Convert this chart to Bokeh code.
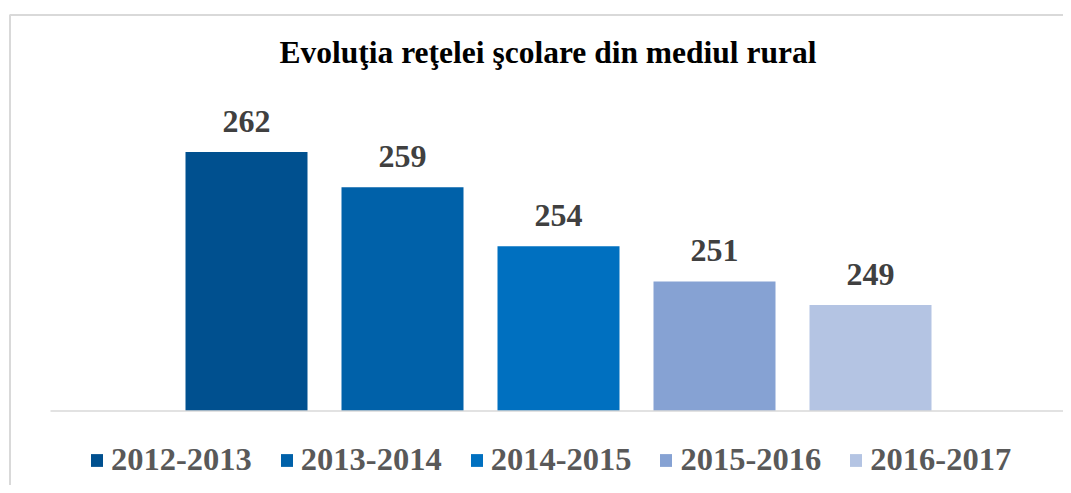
from bokeh.plotting import figure
from bokeh.models import ColumnDataSource, Range1d, Label
from bokeh.core.properties import value
from bokeh.embed import file_html
from bokeh.resources import INLINE

# ---- data ----
years = ["2012-2013", "2013-2014", "2014-2015", "2015-2016", "2016-2017"]
counts = [262, 259, 254, 251, 249]
colors = ["#00508F", "#0061A9", "#0070C0", "#86A2D3", "#B4C4E3"]
title_text = "Evoluţia reţelei şcolare din mediul rural"

# ---- geometry (canvas pixels) ----
W, H = 1063, 485
slot = 156.0            # px per category
c0 = 246.0              # canvas x of first bar centre
ppu = 11.77             # px per value unit
base_cy = 410.5         # canvas y of baseline
y_base = 240

x_start = (0 - c0) / slot
x_end = (W - c0) / slot
y_top = y_base + base_cy / ppu
y_bot = y_base - (H - base_cy) / ppu

def xd(cx):
    return (cx - c0) / slot

def yd(cy):
    return y_top - cy / ppu

src = ColumnDataSource(dict(
    x=list(range(len(years))),
    value=counts,
    year=years,
    color=colors,
    label=[str(c) for c in counts],
))

p = figure(width=W, height=H, x_range=Range1d(x_start, x_end), y_range=Range1d(y_bot, y_top),
           output_backend="svg", toolbar_location=None,
           x_axis_location=None, y_axis_location=None,
           min_border=0, min_border_left=0, min_border_right=0, min_border_top=0, min_border_bottom=0)
p.outline_line_color = None
p.grid.visible = False
p.background_fill_color = "white"
p.border_fill_color = "white"

font = value("Liberation Serif")

# outer chart border (left and top edges visible)
p.line(x=[xd(9.5), xd(9.5), xd(W + 20)], y=[yd(H + 20), yd(14.5), yd(14.5)],
       line_color="#d9d9d9", line_width=2)

p.vbar(x="x", top="value", bottom=y_base, width=122 / slot, fill_color="color",
       line_color=None, source=src, legend_field="year")

p.segment(x0=[xd(50)], x1=[xd(1066)], y0=[y_base], y1=[y_base], line_color="#d9d9d9", line_width=1.5)

p.text(x="x", y="value", text="label", source=src, text_align="center",
       text_baseline="alphabetic", y_offset=-31, text_font=font, text_font_style="bold",
       text_font_size="32px", text_color="#404040")

p.add_layout(Label(x=xd(547.5), y=yd(52), text=title_text, text_align="center",
                   text_baseline="alphabetic", text_font="Liberation Serif", text_font_style="bold",
                   text_font_size="31.5px", text_color="#000000"))

leg = p.legend[0]
leg.orientation = "horizontal"
leg.location = (89, 7)
leg.border_line_color = None
leg.background_fill_alpha = 0
leg.glyph_width = 15
leg.glyph_height = 16
leg.label_standoff = 7
leg.spacing = 27
leg.padding = 0
leg.margin = 0
leg.label_text_font = "Liberation Serif"
leg.label_text_font_style = "bold"
leg.label_text_font_size = "32.5px"
leg.label_text_color = "#595959"

open("out.html", "w").write(file_html(p, INLINE))
